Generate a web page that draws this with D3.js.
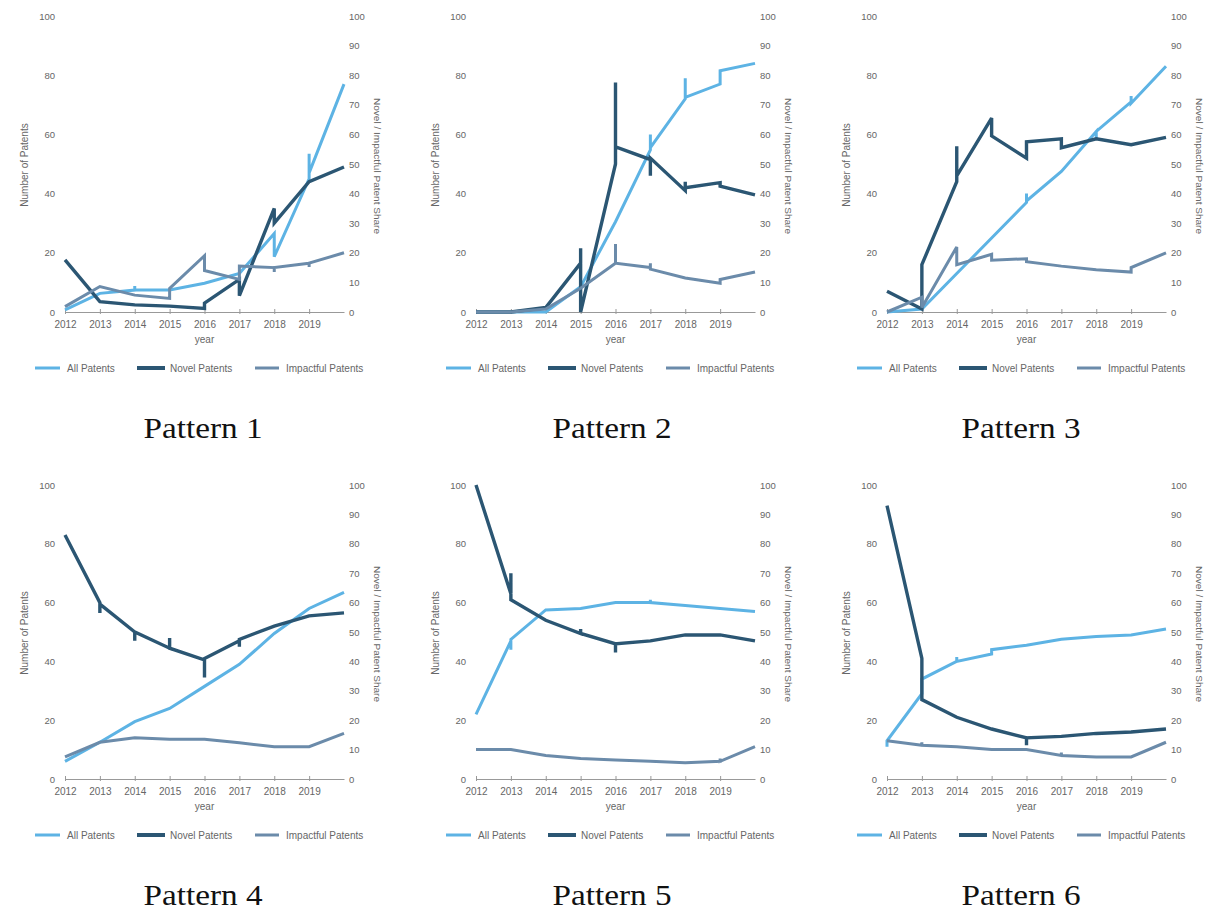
<!DOCTYPE html>
<html>
<head>
<meta charset="utf-8">
<script src="https://cdn.jsdelivr.net/npm/d3@7"></script>
<style>
  html, body { margin: 0; padding: 0; background: #fff; }
  svg { display: block; }
  .tick text { font-family: "Liberation Sans", Arial, sans-serif; fill: #666; }
</style>
</head>
<body>
<svg id="chart" width="1207" height="913"></svg>
<script>
// ---- data -------------------------------------------------------------
const yearTicks = [2012, 2013, 2014, 2015, 2016, 2017, 2018, 2019];
const countTicks = [0, 20, 40, 60, 80, 100];
const shareTicks = [0, 10, 20, 30, 40, 50, 60, 70, 80, 90, 100];
const seriesNames = ["All Patents", "Novel Patents", "Impactful Patents"];
const patternNames = ["Pattern 1", "Pattern 2", "Pattern 3", "Pattern 4", "Pattern 5", "Pattern 6"];

// [year, value]; a repeated year is a jump within that year
const all1 = [[2012,0.7],[2013,6.3],[2014,7.4],[2014,8.8],[2014,7.4],[2015,7.4],[2016,9.7],[2017,13],[2018,26.5],[2018,18.7],[2019,45],[2019,53.5],[2019,47],[2020,77]];
const novel1 = [[2012,17.6],[2013,3.5],[2014,2.4],[2015,2],[2016,1.2],[2016,3],[2017,11],[2017,5.5],[2018,35],[2018,30],[2019,44],[2020,49]];
const impact1 = [[2012,1.8],[2013,8.6],[2014,5.7],[2015,4.6],[2015,8],[2016,19],[2016,14],[2017,11],[2017,15.5],[2018,15],[2018,13.5],[2018,15],[2019,16.5],[2019,15.2],[2019,16.5],[2020,20]];

const all2 = [[2012,0],[2013,0],[2014,0],[2015,8.5],[2016,30.5],[2017,54.8],[2017,60],[2017,55.5],[2018,72],[2018,79],[2018,72.5],[2019,77],[2019,81.5],[2020,84]];
const novel2 = [[2012,0],[2013,0],[2014,1.5],[2015,16.5],[2015,21.5],[2015,0],[2016,50],[2016,77.5],[2016,55.8],[2017,51.5],[2017,46],[2017,52],[2018,41],[2018,44],[2018,42],[2019,43.7],[2019,42.5],[2020,39.6]];
const impact2 = [[2012,0],[2013,0],[2014,1],[2015,8],[2016,16.5],[2016,23],[2016,16.5],[2017,15],[2017,16.5],[2017,14.5],[2018,11.5],[2019,9.7],[2019,11],[2020,13.5]];

const all3 = [[2012,0],[2013,1],[2014,13],[2015,25],[2016,37],[2016,40],[2016,37.5],[2017,47.5],[2018,61],[2018,58.5],[2018,61],[2019,71],[2019,73],[2019,70.5],[2020,83]];
const novel3 = [[2012,7],[2013,1],[2013,16],[2014,44],[2014,56],[2014,46],[2015,65.5],[2015,59.5],[2016,52],[2016,57.5],[2017,58.5],[2017,55.5],[2018,58.5],[2019,56.5],[2020,59]];
const impact3 = [[2012,0],[2013,5],[2013,1.5],[2014,22],[2014,16],[2015,19.5],[2015,17.5],[2016,18],[2016,17],[2017,15.5],[2018,14.3],[2019,13.5],[2019,15],[2020,20]];

const all4 = [[2012,6],[2013,12.5],[2014,19.5],[2015,24],[2016,31.5],[2017,39],[2018,49.5],[2019,58],[2020,63.5]];
const novel4 = [[2012,83],[2013,60],[2013,56.5],[2013,59.5],[2014,50],[2014,47],[2014,50],[2015,44.5],[2015,48],[2015,44.5],[2016,40.5],[2016,34.5],[2016,41],[2017,47],[2017,45],[2017,47.5],[2018,52],[2019,55.5],[2020,56.5]];
const impact4 = [[2012,7.5],[2013,12.5],[2014,14],[2015,13.5],[2016,13.5],[2017,12.3],[2018,11],[2019,11],[2020,15.5]];

const all5 = [[2012,22],[2013,47],[2013,44],[2013,47.5],[2014,57.5],[2015,58],[2016,60],[2017,60],[2017,61],[2017,60],[2018,59],[2019,58],[2020,57]];
const novel5 = [[2012,100],[2013,63],[2013,70],[2013,61],[2014,54],[2015,49.5],[2015,51],[2015,49.5],[2016,46],[2016,43],[2016,46],[2017,47],[2018,49],[2019,49],[2020,47]];
const impact5 = [[2012,10],[2013,10],[2014,8],[2015,7],[2016,6.5],[2017,6],[2018,5.5],[2019,6],[2019,7],[2019,6],[2020,11]];

const all6 = [[2012,11],[2012,13],[2013,29],[2013,34],[2014,40],[2014,41.5],[2014,40],[2015,42.5],[2015,44],[2016,45.5],[2017,47.5],[2018,48.5],[2019,49],[2020,51]];
const novel6 = [[2012,93],[2013,41],[2013,27],[2014,21],[2015,17],[2016,14],[2016,11.5],[2016,14],[2017,14.5],[2018,15.5],[2019,16],[2020,17]];
const impact6 = [[2012,13],[2013,11.5],[2013,12.5],[2013,11.5],[2014,11],[2015,10],[2016,10],[2017,8],[2017,9],[2017,8],[2018,7.5],[2019,7.5],[2020,12.5]];

const allSeries = [all1, all2, all3, all4, all5, all6];
const novelSeries = [novel1, novel2, novel3, novel4, novel5, novel6];
const impactSeries = [impact1, impact2, impact3, impact4, impact5, impact6];

// ---- layout -----------------------------------------------------------
const colors = ["#5db3e4", "#2b5673", "#6b8baa"];
const widths = [3, 3.4, 3];
const plotLefts = [65, 476, 887];
const plotW = 279;
const rows = [
  { top: 16, bottom: 312, legendY: 368, captionY: 438 },
  { top: 485, bottom: 779, legendY: 835, captionY: 905 }
];
const captionX = [203, 612, 1021];
const font = '"Liberation Sans", Arial, sans-serif';

const svg = d3.select("#chart");

patternNames.forEach((name, i) => {
  const col = i % 3, row = rows[Math.floor(i / 3)];
  const left = plotLefts[col];
  const x = d3.scaleLinear().domain([2012, 2020]).range([left, left + plotW]);
  const yCount = d3.scaleLinear().domain([0, 100]).range([row.bottom, row.top]);
  const yShare = d3.scaleLinear().domain([0, 100]).range([row.bottom, row.top]);
  const g = svg.append("g");

  // left axis: number of patents
  const la = g.append("g").attr("transform", `translate(${left},0)`)
    .call(d3.axisLeft(yCount).tickValues(countTicks).tickSize(0).tickPadding(10));
  la.select(".domain").remove();
  la.selectAll("text").attr("font-size", 9.5);

  // right axis: share
  const ra = g.append("g").attr("transform", `translate(${left + plotW},0)`)
    .call(d3.axisRight(yShare).tickValues(shareTicks).tickSize(0).tickPadding(5));
  ra.select(".domain").remove();
  ra.selectAll("text").attr("font-size", 9.5);

  // x axis
  const xa = g.append("g").attr("transform", `translate(0,${row.bottom})`)
    .call(d3.axisBottom(x).tickValues(yearTicks).tickFormat(d3.format("d")).tickSize(0).tickPadding(9));
  xa.select(".domain").attr("stroke", "#999").attr("stroke-width", 1);
  xa.selectAll("text").attr("font-size", 10);
  xa.selectAll(".tick").append("line")
    .attr("y1", -3).attr("y2", 2).attr("stroke", "#999").attr("stroke-width", 1);

  // axis titles
  g.append("text").text("year")
    .attr("x", left + plotW / 2).attr("y", row.bottom + 31)
    .attr("text-anchor", "middle").attr("font-family", font).attr("font-size", 10).attr("fill", "#666");
  g.append("text").text("Number of Patents")
    .attr("transform", `translate(${left - 37},${(row.top + row.bottom) / 2 + 1}) rotate(-90)`)
    .attr("text-anchor", "middle").attr("font-family", font).attr("font-size", 10).attr("fill", "#666");
  g.append("text").text("Novel / Impactful Patent Share")
    .attr("transform", `translate(${left + plotW + 30},${(row.top + row.bottom) / 2 + 2}) rotate(90)`)
    .attr("text-anchor", "middle").attr("font-family", font).attr("font-size", 9)
    .attr("textLength", 136).attr("lengthAdjust", "spacingAndGlyphs").attr("fill", "#666");

  // series lines
  const lineCount = d3.line().x(d => x(d[0])).y(d => yCount(d[1]));
  const lineShare = d3.line().x(d => x(d[0])).y(d => yShare(d[1]));
  const data = [
    { pts: allSeries[i], gen: lineCount },
    { pts: novelSeries[i], gen: lineShare },
    { pts: impactSeries[i], gen: lineShare }
  ];
  data.forEach((s, k) => {
    g.append("path").datum(s.pts)
      .attr("d", s.gen)
      .attr("fill", "none")
      .attr("stroke", colors[k])
      .attr("stroke-width", widths[k])
      .attr("stroke-linejoin", "miter")
      .attr("stroke-miterlimit", 3);
  });

  // legend
  const legendItems = [
    { x1: -30, x2: -5, tx: 2 },
    { x1: 72, x2: 100, tx: 105 },
    { x1: 190, x2: 214, tx: 221 }
  ];
  legendItems.forEach((li, k) => {
    g.append("line")
      .attr("x1", left + li.x1).attr("x2", left + li.x2)
      .attr("y1", row.legendY).attr("y2", row.legendY)
      .attr("stroke", colors[k]).attr("stroke-width", k === 1 ? 4 : 3);
    g.append("text").text(seriesNames[k])
      .attr("x", left + li.tx).attr("y", row.legendY + 3.5)
      .attr("font-family", font).attr("font-size", 10).attr("fill", "#666");
  });

  // caption
  svg.append("text").text(name)
    .attr("x", captionX[col]).attr("y", row.captionY)
    .attr("text-anchor", "middle")
    .attr("font-family", '"Liberation Serif", "DejaVu Serif", serif')
    .attr("font-size", 30).attr("fill", "#111")
    .attr("textLength", 119).attr("lengthAdjust", "spacingAndGlyphs");
});
</script>
</body>
</html>
